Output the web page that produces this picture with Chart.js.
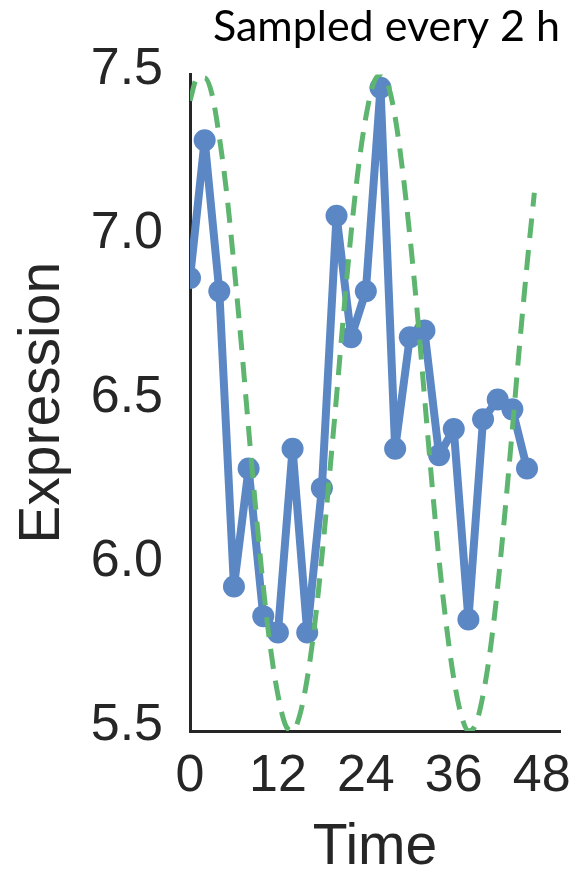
<!DOCTYPE html>
<html>
<head>
<meta charset="utf-8">
<script src="https://cdn.jsdelivr.net/npm/chart.js@4"></script>
<style>
  html, body { margin: 0; padding: 0; background: #fff; }
  #wrap { width: 573px; height: 872px; }
</style>
</head>
<body>
<div id="wrap"><canvas id="myChart"></canvas></div>
<script>
// sampled measurements, every 2 h
var hours = [0, 2, 4, 6, 8, 10, 12, 14, 16, 18, 20, 22, 24, 26, 28, 30, 32, 34, 36, 38, 40, 42, 44, 46];
var expression = [6.88, 7.30, 6.84, 5.94, 6.30, 5.85, 5.80, 6.36, 5.80, 6.24, 7.07, 6.70,
                  6.84, 7.46, 6.36, 6.70, 6.72, 6.34, 6.42, 5.84, 6.45, 6.51, 6.48, 6.30];

var fitHours = [0, 1, 2, 3, 4, 5, 6, 7, 8, 9, 10, 11, 12, 13, 14, 15, 16, 17, 18, 19, 20, 21, 22, 23,
                24, 25, 26, 27, 28, 29, 30, 31, 32, 33, 34, 35, 36, 37, 38, 39, 40, 41, 42, 43, 44, 45, 46, 47];
var fitValues = [7.42, 7.49, 7.49, 7.44, 7.31, 7.14, 6.92, 6.68, 6.42, 6.17, 5.94, 5.75,
                 5.61, 5.52, 5.50, 5.55, 5.66, 5.82, 6.03, 6.27, 6.52, 6.78, 7.02, 7.22,
                 7.37, 7.47, 7.50, 7.47, 7.37, 7.21, 7.01, 6.78, 6.52, 6.26, 6.02, 5.82,
                 5.66, 5.55, 5.50, 5.52, 5.61, 5.75, 5.94, 6.17, 6.42, 6.68, 6.92, 7.14];

var xTicks = [0, 12, 24, 36, 48];
var yTicks = [5.5, 6.0, 6.5, 7.0, 7.5];

var axisColor = '#262626';
var tickFont = { family: "'Liberation Sans', Arial, sans-serif", size: 52 };
var titleFont = { family: "'Liberation Sans', Arial, sans-serif", size: 57, lineHeight: 0.8 };

var ctx = document.getElementById('myChart').getContext('2d');
new Chart(ctx, {
  type: 'line',
  data: {
    datasets: [{
      // green dashed curve on top
      data: fitHours.map(function(h, i) { return { x: h, y: fitValues[i] }; }),
      borderColor: '#5DB56F',
      borderWidth: 5,
      borderDash: [20, 12],
      pointRadius: 0,
      cubicInterpolationMode: 'monotone',
      clip: 0
    }, {
      data: hours.map(function(h, i) { return { x: h, y: expression[i] }; }),
      borderColor: '#5B87C5',
      backgroundColor: '#5B87C5',
      borderWidth: 8,
      borderJoinStyle: 'round',
      pointRadius: 11,
      pointBorderWidth: 0,
      pointBackgroundColor: '#5B87C5',
      tension: 0,
      clip: 0
    }]
  },
  options: {
    responsive: true,
    maintainAspectRatio: false,
    animation: false,
    layout: { padding: { left: 0, right: 13, top: 0, bottom: 0 } },
    plugins: {
      legend: { display: false },
      tooltip: { enabled: false },
      title: {
        display: true,
        text: 'Sampled every 2 h',
        align: 'end',
        color: '#000',
        font: { family: 'Lato, sans-serif', size: 43, weight: 'normal', lineHeight: 1.2 },
        padding: { top: 1, bottom: 22 }
      }
    },
    scales: {
      x: {
        type: 'linear',
        min: 0,
        max: 50.5,
        z: 1,
        grid: { display: false, drawTicks: false },
        border: { display: true, color: axisColor, width: 3 },
        afterBuildTicks: function(scale) {
          scale.ticks = xTicks.map(function(v) { return { value: v }; });
        },
        afterFit: function(scale) {
          scale.height = 141;
          scale.paddingLeft = 0;
          scale.paddingRight = 0;
        },
        ticks: { color: axisColor, font: tickFont, padding: 14, maxRotation: 0, autoSkip: false },
        title: { display: true, text: 'Time', color: axisColor, font: titleFont, padding: { top: 0, bottom: 1 } }
      },
      y: {
        min: 5.5,
        max: 7.5,
        z: 1,
        grid: { display: false, drawTicks: false },
        border: { display: true, color: axisColor, width: 3 },
        afterBuildTicks: function(scale) {
          scale.ticks = yTicks.map(function(v) { return { value: v }; });
        },
        afterFit: function(scale) { scale.width = 190; },
        ticks: {
          color: axisColor, font: tickFont, padding: 27, labelOffset: -5, autoSkip: false,
          callback: function(v) { return v.toFixed(1); }
        },
        title: { display: true, text: 'Expression', color: axisColor, font: titleFont, padding: { top: 20, bottom: 0 } }
      }
    }
  }
});
</script>
</body>
</html>
